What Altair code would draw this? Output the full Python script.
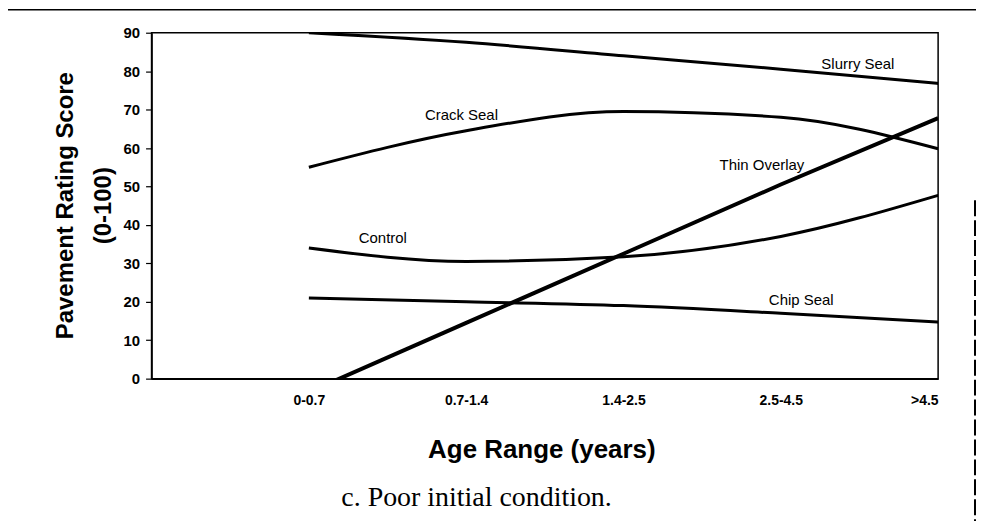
import altair as alt
import pandas as pd

# ---- data ----
age_ranges = ["0-0.7", "0.7-1.4", "1.4-2.5", "2.5-4.5", ">4.5"]
age_index = [0, 1, 2, 3, 4]

slurry_seal = [90, 87.5, 84, 80.5, 76.8]
crack_seal = [55, 64.5, 69.5, 68, 59.8]
control = [34, 30.5, 31.7, 37, 47.7]
chip_seal = [21, 20, 19, 17, 14.7]
thin_overlay = [-3.5, 14.5, 32.5, 50.5, 67.8]

series_names = ["Slurry Seal", "Crack Seal", "Control", "Chip Seal", "Thin Overlay"]
series_values = [slurry_seal, crack_seal, control, chip_seal, thin_overlay]

label_names = ["Slurry Seal", "Crack Seal", "Thin Overlay", "Control", "Chip Seal"]
label_x = [3.49, 0.97, 2.88, 0.47, 3.13]
label_y = [81.9, 68.5, 55.5, 36.6, 20.5]

caption = "c. Poor initial condition."

# ---- tables ----
rows = []
for name, vals in zip(series_names, series_values):
    for i, v in zip(age_index, vals):
        rows.append({"series": name, "idx": i, "score": v})
df = pd.DataFrame(rows)

lab_df = pd.DataFrame({"name": label_names, "idx": label_x, "score": label_y})

label_expr = "[" + ",".join("'" + a + "'" for a in age_ranges) + "][datum.value]"

x_enc = alt.X(
    "idx:Q",
    scale=alt.Scale(domain=[-1, 4], nice=False, zero=False),
    axis=alt.Axis(
        values=age_index,
        labelExpr=label_expr,
        title="Age Range (years)",
        ticks=False,
        grid=False,
        labelPadding=15,
        labelFontSize=14,
        labelFontWeight="bold",
        titleFontSize=26,
        titleFontWeight="bold",
        titleX=391,
        titleY=71,
        titleBaseline="middle",
        domainColor="black",
        domainWidth=1.5,
        labelColor="black",
        titleColor="black",
    ),
)
y_enc = alt.Y(
    "score:Q",
    scale=alt.Scale(domain=[0, 90], nice=False),
    axis=alt.Axis(
        values=list(range(0, 91, 10)),
        title=["Pavement Rating Score", "(0-100)"],
        grid=False,
        tickSize=6,
        tickColor="black",
        tickWidth=1.2,
        labelPadding=6,
        labelFontSize=15,
        labelFontWeight="bold",
        titleFontSize=24,
        titleFontWeight="bold",
        titleAngle=270,
        titleX=-86,
        titleY=173,
        titleBaseline="middle",
        titleLineHeight=38,
        domainColor="black",
        domainWidth=1.5,
        labelColor="black",
        titleColor="black",
    ),
)

curves = alt.Chart(df).transform_filter(
    alt.datum.series != "Thin Overlay"
).mark_line(
    interpolate="monotone", color="black", strokeWidth=3, clip=True
).encode(x=x_enc, y=y_enc, detail="series:N")

overlay = alt.Chart(df).transform_filter(
    alt.datum.series == "Thin Overlay"
).mark_line(
    color="black", strokeWidth=4, clip=True
).encode(x=x_enc, y=y_enc)

labels = alt.Chart(lab_df).mark_text(
    fontSize=15, font="Liberation Sans", color="black"
).encode(x=x_enc, y=y_enc, text="name:N")

# caption and scanned page border lines (decoration, pixel positions)
deco = pd.DataFrame({"k": [0]})
caption_text = alt.Chart(deco).mark_text(
    font="Liberation Serif", fontSize=28, color="black",
    align="center", baseline="middle",
).encode(x=alt.value(326), y=alt.value(467), text=alt.value(caption))

top_border = alt.Chart(deco).mark_rule(color="black", strokeWidth=1.5).encode(
    x=alt.value(-160), x2=alt.value(830), y=alt.value(-23)
)
right_border = alt.Chart(deco).mark_rule(
    color="black", strokeWidth=2, strokeDash=[16, 4]
).encode(x=alt.value(826), y=alt.value(168), y2=alt.value(490))

chart = (
    alt.layer(curves, overlay, labels, caption_text, top_border, right_border)
    .properties(
        width=789,
        height=347,
        autosize=alt.AutoSizeParams(type="none"),
        padding={"left": 144, "top": 24, "right": 38, "bottom": 142},
    )
    .configure(font="Liberation Sans", background="white")
    .configure_view(stroke="black", strokeWidth=1.5)
)

chart.save("out.html", embed_options={"renderer": "svg", "actions": False})
